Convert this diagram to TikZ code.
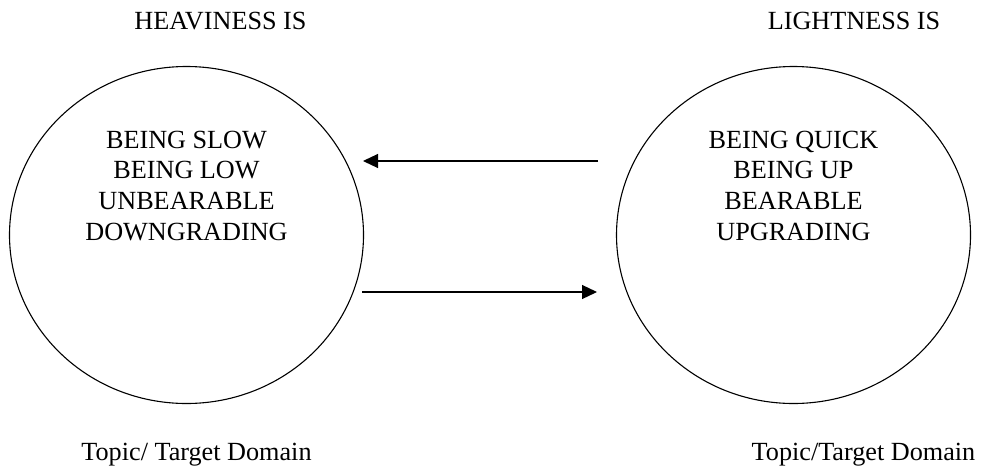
\documentclass[tikz,border=0pt]{standalone}
\usepackage{fontspec}
\setmainfont{Liberation Serif}
\usetikzlibrary{shapes.geometric,arrows.meta}
\tikzset{
  domainbox/.style={ellipse, draw, line width=1.1pt, minimum width=354pt, minimum height=337pt, inner sep=0pt},
  captiontext/.style={font=\fontsize{26.2}{30.7}\selectfont, inner sep=0pt, anchor=base},
  listtext/.style={font=\fontsize{26.2}{30.7}\selectfont, inner sep=0pt, align=center, anchor=north},
  mapping/.style={line width=1.2pt, -{Triangle[length=15pt,width=14pt]}}
}
\begin{document}
\begin{tikzpicture}[x=1pt,y=-1pt]
  \useasboundingbox (0,0) rectangle (981,466);
  % headings
  \node[captiontext] (hh) at (220.5,29.3) {HEAVINESS IS};
  \node[captiontext] (lh) at (854,29.3) {LIGHTNESS IS};
  % the two domains
  \node[domainbox] (L) at (186.5,235) {};
  \node[domainbox] (R) at (793.5,235) {};
  \node[listtext] (lt) at (186.5,130.5) {BEING SLOW\\BEING LOW\\UNBEARABLE\\DOWNGRADING};
  \node[listtext] (rt) at (793.5,130.5) {BEING QUICK\\BEING UP\\BEARABLE\\UPGRADING};
  % mappings between the domains
  \coordinate (a1) at (598,161);
  \coordinate (a2) at (363,161);
  \coordinate (b1) at (362,292);
  \coordinate (b2) at (597,292);
  \draw[mapping] (a1) -- (a2);
  \draw[mapping] (b1) -- (b2);
  % captions
  \node[captiontext] (lc) at (196.5,460) {Topic/ Target Domain};
  \node[captiontext] (rc) at (863.5,460) {Topic/Target Domain};
\end{tikzpicture}
\end{document}
